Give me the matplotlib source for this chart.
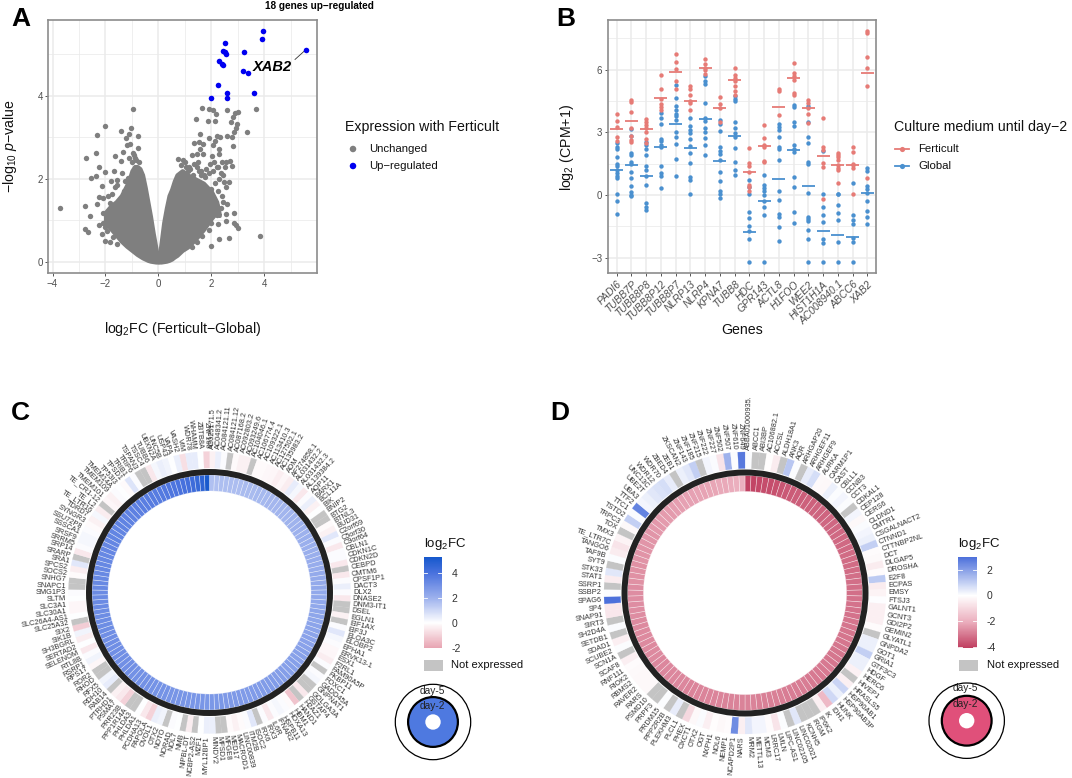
import numpy as np
import matplotlib
matplotlib.use("Agg")
import matplotlib.pyplot as plt
from matplotlib.colors import LinearSegmentedColormap, Normalize
from matplotlib.cm import ScalarMappable
from matplotlib.patches import Circle, Rectangle
from matplotlib.ticker import MultipleLocator

plt.rcParams['font.family'] = ['Liberation Sans', 'DejaVu Sans']
plt.rcParams['mathtext.fontset'] = 'custom'
plt.rcParams['mathtext.rm'] = 'Liberation Sans'
plt.rcParams['mathtext.it'] = 'Liberation Sans:italic'
plt.rcParams['mathtext.bf'] = 'Liberation Sans:bold'
plt.rcParams['axes.unicode_minus'] = True

W, H = 1072, 778

# ---------- Panel A data ----------
up_x = [2.0, 2.24, 2.58, 2.58, 3.62, 3.19, 3.37, 2.3, 2.42, 2.44, 2.45, 2.5, 2.57, 2.5, 3.22, 3.9, 3.95, 5.56]
up_y = [3.94, 4.26, 4.07, 3.94, 4.08, 4.59, 4.55, 4.84, 4.77, 4.74, 5.09, 5.07, 5.0, 5.27, 5.06, 5.38, 5.56, 5.11]

gray_x = [-3.7, -2.79, -2.74, -2.36, -2.31, -2.01, -1.40, -1.02, -0.97, -0.77, -1.12, -1.22, -1.19, -1.07, -0.78,
          -1.35, -1.64, -0.92, -1.41, -1.13, -2.25, -2.03, -1.67, -2.35, -2.55, -2.15, -1.79, -1.58, -1.38, -2.24,
          -2.08, -2.31, -2.58, -2.08, -2.77, -2.65, -2.26, -2.11, -2.14, -2.0, -1.82, -1.57, -1.9, -1.75, -1.82,
          -1.65, -2.0, -1.5, -1.7, -1.95, -1.72, -1.55, -1.3, -1.25, -1.15, -0.85, -0.88, -0.72, -1.0, -0.95,
          1.66, 1.91, 2.08, 2.19, 1.42, 1.89, 2.15, 2.60, 3.70, 2.99, 2.89, 2.83, 2.73, 2.96, 2.92, 2.87, 3.35, 1.57,
          1.92, 2.23, 2.32, 2.14, 2.58, 2.77, 2.82, 1.33, 1.53, 1.70, 2.08, 2.27, 1.57, 0.75, 0.94, 1.26, 1.45, 1.70,
          2.03, 2.27, 2.55, 2.70, 2.79, 2.48, 2.67, 2.55, 2.87, 2.2, 2.55, 2.26, 2.87, 2.93, 3.02, 3.85, 2.29, 2.65,
          1.97, 1.91, 1.64, 1.45, 1.26, 1.0, 1.15, 1.35, 1.5, 1.62, 1.8, 1.95, 2.1, 2.25, 2.4, 1.1, 1.3, 1.52, 1.72,
          1.9, 2.05, 2.2, 2.35, 2.5, 2.15, 2.3, 2.45, 2.0, 2.25, 2.4, 2.55, 2.1, 2.2, 2.35, 2.45, 2.6, 1.85, 2.0, 0.85,
          1.05, 1.2, 1.45, 1.6, 0.9, 1.75, 1.55]
gray_y = [1.29, 1.35, 2.5, 2.62, 3.06, 3.28, 3.16, 3.23, 3.69, 3.03, 3.08, 2.98, 2.82, 2.84, 2.74,
          2.66, 2.55, 2.58, 2.43, 2.5, 2.3, 2.18, 2.19, 2.07, 2.03, 1.84, 1.95, 1.97, 2.14, 1.57,
          1.55, 1.40, 1.10, 1.17, 0.79, 0.72, 0.88, 0.93, 0.67, 0.51, 0.47, 0.43, 1.6, 1.65, 1.42,
          1.8, 0.85, 0.7, 0.6, 0.75, 1.1, 1.85, 1.72, 1.95, 2.02, 2.45, 2.5, 2.4, 2.4, 2.62,
          3.72, 3.69, 3.66, 3.57, 3.45, 3.40, 3.39, 3.65, 3.68, 3.62, 3.58, 3.50, 3.38, 3.32, 3.22, 3.14, 3.12, 3.08,
          2.98, 3.04, 3.0, 2.92, 3.04, 3.02, 2.8, 2.86, 2.88, 2.84, 2.82, 2.72, 2.72, 2.47, 2.45, 2.58, 2.6, 2.6,
          2.55, 2.6, 2.42, 2.44, 2.32, 1.92, 1.92, 1.15, 1.17, 1.13, 0.99, 0.92, 0.95, 0.88, 0.81, 0.63, 0.55, 0.59,
          0.39, 0.76, 0.63, 0.49, 0.37, 2.4, 2.3, 2.35, 2.42, 2.2, 2.25, 2.35, 2.42, 2.3, 2.4, 2.2, 2.1, 2.2, 2.1,
          2.15, 2.2, 2.3, 2.15, 2.3, 1.9, 2.0, 2.1, 1.75, 1.7, 1.6, 1.8, 1.45, 1.35, 1.3, 1.45, 1.4, 1.05, 0.95, 2.33,
          2.28, 2.25, 2.3, 2.1, 2.15, 2.05, 1.05]

left_x = [-2.0, -1.8, -1.6, -1.4, -1.2, -1.1, -1.0, -0.9, -0.8, -0.7, -0.6, -0.5, -0.4, -0.3, -0.2, -0.1, -0.02]
left_top = [1.2, 1.35, 1.45, 1.6, 1.85, 2.0, 2.2, 2.3, 2.3, 2.25, 2.1, 1.8, 1.45, 1.1, 0.7, 0.35, 0.05]
left_low = [0.95, 0.8, 0.65, 0.5, 0.38, 0.33, 0.28, 0.23, 0.18, 0.14, 0.1, 0.07, 0.04, 0.02, 0.01, 0.0, 0.0]
right_x = [0.02, 0.1, 0.2, 0.3, 0.4, 0.5, 0.6, 0.7, 0.9, 1.1, 1.4, 1.7, 2.0, 2.2, 2.3]
right_top = [0.05, 0.45, 0.95, 1.3, 1.6, 1.75, 1.95, 2.1, 2.2, 2.1, 2.0, 1.9, 1.7, 1.45, 1.15]
right_low = [0.0, 0.0, 0.01, 0.02, 0.04, 0.07, 0.12, 0.16, 0.28, 0.36, 0.55, 0.78, 1.05, 1.2, 1.12]

# ---------- Panel B data ----------
genes_b = ['PADI6', 'TUBB7P', 'TUBB8P8', 'TUBB8P12', 'TUBB8P7', 'NLRP13', 'NLRP4', 'KPNA7', 'TUBB8', 'HDC', 'GPR143',
           'ACTL8', 'H1FOO', 'WEE2', 'HIST1H1A', 'AC008940.1', 'ABCC6', 'XAB2']
ferticult = [
    [3.9, 3.55, 3.25, 2.8, 2.6], [4.55, 4.45, 4.0, 3.2, 2.85, 2.65, 2.55], [3.65, 3.5, 3.35, 3.2, 3.0, 2.7, 2.5],
    [5.75, 5.1, 4.6, 4.35, 4.2, 4.05], [6.75, 6.35, 6.05, 5.45, 5.1], [5.2, 5.1, 4.8, 4.5, 4.4, 4.05],
    [6.5, 6.25, 6.1, 6.0, 5.8], [4.7, 4.35, 4.15, 3.5], [6.1, 5.75, 5.6, 5.45, 5.2, 5.0, 4.8],
    [2.25, 1.55, 1.4, 1.1, 0.5, 0.4, 0.2], [3.35, 2.75, 2.4, 2.3, 1.65, 1.6], [5.1, 5.0, 3.85],
    [6.3, 5.85, 5.7, 5.5, 4.9, 4.8], [4.55, 4.4, 4.15, 3.9, 3.45], [3.7, 2.3, 2.15, 1.55, 1.36, -0.2],
    [2.03, 1.9, 1.8, 1.67, 1.44, 1.28, 1.2, 0.6], [2.3, 2.07, 1.5, 1.43, 1.28, 0.03], [7.87, 7.75, 6.6, 6.1, 5.2, 0.8]]
global_ = [
    [2.5, 2.3, 2.2, 1.8, 1.5, 1.4, 1.2, 1.05, 0.9, 0.8, 0.05, -0.3, -0.9],
    [3.15, 2.85, 2.0, 1.9, 1.6, 1.5, 1.1, 0.8, 0.45, 0.15, 0.0, -0.05],
    [2.55, 2.4, 2.2, 1.9, 1.4, 1.2, 0.9, 0.5, -0.4, -0.55, -0.7],
    [3.95, 3.7, 3.4, 2.7, 2.6, 2.4, 2.3, 1.4, 1.05, 0.9, 0.35],
    [5.25, 4.65, 4.25, 4.05, 3.9, 3.8, 3.6, 3.0, 2.8, 2.45, 1.75, 0.9],
    [3.7, 3.3, 3.1, 2.95, 2.7, 2.35, 2.0, 1.55, 0.85, 0.7, 0.05],
    [5.7, 5.45, 5.3, 4.4, 3.7, 3.55, 3.2, 3.0, 2.75, 2.4, 1.9],
    [3.6, 3.4, 3.05, 2.3, 2.1, 1.95, 1.7, 1.1, 0.65, 0.2, 0.05, -0.15],
    [4.75, 4.6, 4.5, 3.5, 3.2, 2.95, 2.8, 2.25, 1.6, 1.2, 0.95],
    [0.7, 0.4, 0.05, -0.8, -1.1, -1.5, -1.7, -2.1, -3.2],
    [0.95, 0.5, 0.35, 0.2, 0.0, -0.3, -0.55, -0.95, -3.2],
    [3.4, 3.25, 3.1, 2.8, 2.3, 2.2, 1.7, 0.2, -0.25, -0.9, -1.05, -1.55, -2.2],
    [4.3, 4.2, 3.5, 3.3, 2.4, 2.2, 2.05, 0.85, 0.4, -0.8, -1.35],
    [4.25, 3.5, 2.8, 2.5, 1.6, 1.5, 0.1, -1.05, -1.15, -1.25, -1.65, -2.1, -3.2],
    [2.1, 0.05, -0.55, -0.95, -1.3, -2.1, -2.3, -3.2],
    [0.05, 0.03, -0.48, -0.88, -1.2, -2.27, -3.2],
    [0.6, -0.95, -1.2, -1.4, -2.07, -2.27, -3.2],
    [1.28, 1.16, 0.43, 0.3, 0.1, -0.3, -0.75, -1.05, -1.37]]
mean_f = [3.15, 3.55, 3.15, 4.65, 5.9, 4.5, 6.1, 4.15, 5.5, 1.1, 2.35, 4.2, 5.6, 4.15, 1.87, 1.45, 1.45, 5.85]
mean_g = [1.2, 1.45, 0.9, 2.3, 3.4, 2.25, 3.65, 1.65, 2.85, -1.75, -0.3, 0.75, 2.15, 0.45, -1.7, -1.9, -2.0, 0.08]

# ---------- Panel C data ----------
genes_c = ['AC025171.5', 'AC048341.2', 'AC084121.11', 'AC084121.12', 'AC087168.2', 'AC092803.2', 'AC093249.6',
           'AC104046.1', 'AC106774.4', 'AC109322.1', 'AC113410.3', 'AC127502.1', 'AC135983.2', 'ADM', 'AF274858.1',
           'AL031432.2', 'AL031432.3', 'AL139384.2', 'AQP11', 'BARX1', 'BCL11A', 'BIK', 'BNIP2', 'BTG2', 'BTNL3',
           'BUD31', 'C2orf69', 'C5orf30', 'C9orf64', 'CBLN1', 'CDKN1C', 'CDKN2D', 'CEBPD', 'CMTM6', 'CPSF1P1', 'DACT3',
           'DLX2', 'DNASE2', 'DNM3-IT1', 'DSEL', 'EGLN1', 'EIF1AX', 'EIF3J', 'ELOA3C', 'ELOBP2', 'EPHA1', 'ERVK13-1',
           'ESX1', 'F2RL1', 'FAM90A5P', 'FKBP11', 'FOXC1', 'GADD45A', 'GNPNAT1', 'GOLGA3A', 'GSTAP4', 'H2AZ1', 'HAND1',
           'HBM1', 'HOXA13', 'HSPB11', 'IFNAR2', 'IL6R', 'IRX3', 'IRX6', 'ISOC2', 'ITM2B', 'LINC00839', 'MACROD1',
           'MED17', 'MFGE8', 'MFSD1', 'MINDY2', 'MYL12BP1', 'MZF1', 'NCBP2-AS2', 'NIPBL-DT', 'NMB', 'NOL7', 'NORAD',
           'NOTO', 'OTX2', 'OVOL1', 'PAPOLA', 'PCDHA13', 'PHLDA1', 'PHLDA3', 'PPP1R14A', 'PRR23B', 'PSMA7', 'PTRHD1',
           'RAB14', 'RDH10', 'RFX5', 'RHOD', 'ROR2', 'RPS17', 'RSRP1', 'RTL8B', 'SELENOM', 'SERTAD2', 'SH3BGRL',
           'SIK1B', 'SIX2', 'SLC25A32', 'SLC26A4-AS1', 'SLC30A1', 'SLC3A1', 'SLTM', 'SMG1P3', 'SNAPC1', 'SNHG7',
           'SOCS2', 'SPCS2', 'SRA1', 'SRARP', 'SRP14', 'SRRM5', 'SRSF9', 'SSSCA1', 'SSU72P8', 'SYNGR3', 'TDRD7',
           'TE_LTR16', 'TE_L2', 'TE_CR1-12', 'TMEM101', 'TMEM109', 'TMEM14A', 'TP53I3', 'TPSD1', 'TRIB1', 'TRIP6',
           'TSPAN3', 'TSSC4', 'TUBB6', 'UBXN2A', 'UNC5B', 'USP43', 'VAPA', 'VASH2', 'VIM', 'WDR78', 'WHAMM', 'ZBTB8A',
           'ZNF168']
nan = float('nan')
c_day2 = [1.6, 1.6, 1.65, 1.65, 1.7, 1.7, 1.7, 1.75, 1.75, 1.75, 1.8, 1.8, 1.8, 1.85, 1.85, 1.85, 1.9, 1.9, 1.9, 1.95,
          1.95, 2.0, 2.0, 2.0, 2.05, 2.05, 2.05, 2.1, 2.1, 2.15, 2.15, 2.15, 2.2, 2.2, 2.2, 2.25, 2.25, 2.3, 2.3, 2.3,
          2.35, 2.35, 2.35, 2.4, 2.4, 2.4, 2.45, 2.45, 2.45, 2.5, 2.5, 2.5, 2.55, 2.55, 2.55, 2.6, 2.6, 2.6, 2.65, 2.65,
          2.65, 2.65, 2.7, 2.7, 2.7, 2.7, 2.75, 2.75, 2.75, 2.75, 2.8, 2.8, 2.8, 2.8, 2.85, 2.85, 2.85, 2.85, 2.9, 2.9,
          2.9, 2.9, 2.95, 2.95, 2.95, 2.95, 3.0, 3.0, 3.0, 3.0, 3.0, 3.05, 3.05, 3.05, 3.05, 3.05, 3.1, 3.1, 3.1, 3.1,
          3.1, 3.15, 3.15, 3.15, 3.15, 3.15, 3.2, 3.2, 3.2, 3.2, 3.25, 3.25, 3.25, 3.25, 3.3, 3.3, 3.3, 3.3, 3.35, 3.35,
          3.35, 3.4, 3.4, 3.4, 3.45, 3.45, 3.5, 3.5, 3.55, 3.55, 3.6, 3.6, 3.65, 3.7, 3.7, 3.75, 3.8, 3.85, 3.9, 4.0,
          4.05, 4.15, 4.3, 4.45, 4.7, 5.2]
c_day5 = [-0.3, 0.4, 0.1, nan, -0.1, -0.3, -0.3, nan, -0.1, -0.1, -0.15, -0.2, -0.35, -0.2, -0.4, 0.5, 0.2, -0.5, 0.1,
          0.4, -0.3, 0.05, nan, nan, -0.1, -0.3, 0.6, 0.1, -0.5, 0.1, 0.1, -0.5, nan, -0.5, 0.1, 0.4, 0.1, -0.5, nan,
          nan, -0.3, nan, 0.1, 0.6, 0.2, 0.1, -0.15, -0.2, -0.4, 0.1, nan, 0.1, 0.2, nan, nan, -0.5, nan, -1.3, -0.1,
          0.1, 0.2, 0.1, -0.5, 0.1, nan, 0.6, 0.1, -0.1, -0.3, -0.1, nan, nan, 0.4, 0.4, 0.05, nan, -0.4, nan, 0.05,
          0.1, nan, 0.3, 0.4, -1.0, -0.5, 0.05, nan, nan, -1.0, -0.5, -0.3, nan, 0.5, 0.3, nan, nan, -0.2, 0.3, 0.1,
          -0.5, 0.05, -0.4, 0.3, -1.1, nan, 0.05, -0.2, -0.2, 0.05, 0.1, nan, nan, -0.1, -0.4, 0.6, nan, -0.5, 0.1,
          0.2, 0.2, 0.1, -0.1, -0.3, 0.2, -0.4, nan, -0.2, -0.3, 0.1, 0.05, -0.1, 0.7, 0.1, nan, nan, -0.5, 0.2, 0.4,
          0.3, 0.05, 0.4, -0.7, 0.5, 0.5, 0.05, -1.0]

# ---------- Panel D data ----------
genes_d = ['ABBA01000935.', 'ABCC1', 'ABI3BP', 'AC106882.1', 'ACCSL', 'ALDH18A1', 'ANK3', 'AQR', 'ARHGAP20', 'ARHGEF11',
           'ARHGEF9', 'AURKA', 'CARM1P1', 'CAST', 'CBLL1', 'CCNB3', 'CCT3', 'CDKAL1', 'CEP128', 'CERS6', 'CLDND1',
           'CMTR1', 'CSGALNACT2', 'CTNND1', 'CTTNBP2NL', 'DCT', 'DLGAP5', 'DROSHA', 'E2F8', 'ECPAS', 'EMSY', 'FTSJ3',
           'GALNT1', 'GCNT3', 'GDI2P2', 'GEMIN2', 'GLYATL1', 'GNPDA2', 'GOT1', 'GRIA1', 'GTF3C3', 'HDGF', 'HERC6',
           'HIVEP1', 'HRASLS5', 'HSP90AB1', 'HSP90AB3P', 'HUNK', 'IDH1', 'IK', 'IP6K2', 'IRGM', 'KCNH5', 'LINC02021',
           'LINC02105', 'LIPC-AS1', 'LMLN', 'LRRC17', 'MCM3', 'METTL13', 'MRM2', 'NARS', 'NCAPD2P1', 'NEMP1', 'NOL6',
           'NXPH1', 'OGT', 'OTX2', 'OXCT1', 'PHEX', 'PLCL1', 'PLEKHM3', 'PPP2R2B', 'PRDM15', 'PRPF3', 'PSMD10', 'RARS',
           'RAVER2', 'RBMS2', 'RIOK2', 'RNF111', 'SCAF8', 'SCN1A', 'SCUBE2', 'SDAD1', 'SETDB1', 'SH2D4A', 'SIRT3',
           'SNAP91', 'SP4', 'SPAG6', 'SSBP2', 'SSRP1', 'STAT1', 'STK33', 'SYT9', 'TAF9B', 'TANGO6', 'TE_LTR7C', 'TMX3',
           'TOX', 'TRPC3', 'TSTD2', 'TTC1', 'TTF2', 'UBA3', 'UBE2T', 'UNC13C', 'WDR12', 'WDR70', 'ZBED4', 'ZEB1',
           'ZKSCAN2', 'ZNF143', 'ZNF185', 'ZNF215', 'ZNF222', 'ZNF227', 'ZNF502', 'ZNF507', 'ZNF610', 'ZNF649']
d_day2 = [-4.0, -3.95, -3.9, -3.8, -3.8, -3.75, -3.65, -3.6, -3.55, -3.5, -3.5, -3.45, -3.45, -3.4, -3.4, -3.4, -3.35,
          -3.35, -3.35, -3.3, -3.3, -3.3, -3.3, -3.25, -3.25, -3.25, -3.25, -3.2, -3.2, -3.2, -3.2, -3.15, -3.15, -3.15,
          -3.15, -3.1, -3.1, -3.1, -3.1, -3.05, -3.05, -3.05, -3.05, -3.05, -3.0, -3.0, -3.0, -3.0, -3.0, -2.95, -2.95,
          -2.95, -2.95, -2.95, -2.9, -2.9, -2.9, -2.9, -2.9, -2.85, -2.85, -2.85, -2.85, -2.85, -2.85, -2.8, -2.8, -2.8,
          -2.8, -2.8, -2.8, -2.8, -2.75, -2.75, -2.75, -2.75, -2.75, -2.75, -2.75, -2.7, -2.7, -2.7, -2.7, -2.7, -2.7,
          -2.7, -2.7, -2.65, -2.65, -2.65, -2.65, -2.65, -2.65, -2.6, -2.6, -2.6, -2.6, -2.55, -2.55, -2.55, -2.5, -2.5,
          -2.5, -2.45, -2.45, -2.4, -2.4, -2.4, -2.35, -2.35, -2.3, -2.3, -2.3, -2.25, -2.25, -2.2, -2.2, -2.15, -2.15,
          -2.1, -2.05, -2.0]
d_day5 = [0.05, nan, nan, -0.05, -0.5, nan, 1.2, 0.05, nan, 0.4, 0.7, -0.15, -0.2, 0.3, 0.05, 0.2, 0.05, nan, 0.2, -0.2,
          0.1, 0.2, 0.3, 1.0, -0.1, -0.15, -0.5, -0.1, 1.1, -0.5, -0.3, 0.02, -0.4, -0.4, -0.4, -0.1, nan, 0.3, 0.3,
          1.0, 0.3, 0.3, -0.35, nan, -0.4, 0.9, 0.3, 0.8, -1.8, -0.4, nan, nan, nan, 0.5, nan, 0.05, -0.7, -0.1, 0.2,
          0.2, 0.5, -0.4, 2.4, -0.1, -0.2, -0.05, -0.4, 0.1, -0.2, -1.0, nan, 0.4, nan, 0.05, nan, nan, -0.2, -0.2,
          -0.2, -0.15, -0.1, -0.4, nan, 0.05, -0.4, nan, 0.1, nan, -0.6, -0.6, 3.0, 0.05, nan, -0.5, 0.5, nan, 0.05,
          -0.5, -0.7, -0.3, nan, -0.2, 1.0, 0.1, 2.6, 0.2, 0.3, 0.5, 0.6, 0.7, 0.4, nan, 0.3, 0.5, 1.0, nan, 0.2, 0.1,
          -0.7, 1.6, 0.05, 2.8]

GRID = '#EBEBEB'
BORDER = '#8C8C8C'
TICK = '#4D4D4D'
RED, BLUE = '#E67B76', '#4A90CF'
GRAY_PT, BLUE_PT = '#7F7F7F', '#0000F0'
TXT = '#111111'


def box(x0, y0, x1, y1, **kw):
    return fig.add_axes([x0 / W, 1 - y1 / H, (x1 - x0) / W, (y1 - y0) / H], **kw)


def style(ax):
    ax.grid(True, which='major', color=GRID, lw=1.1, zorder=0)
    ax.grid(True, which='minor', color=GRID, lw=0.55, zorder=0)
    ax.set_axisbelow(True)
    for s in ax.spines.values():
        s.set_color(BORDER)
        s.set_linewidth(1.2)
    ax.tick_params(which='major', length=2.5, width=0.7, color='#555555', labelcolor=TICK, labelsize=7, pad=1.5)
    ax.tick_params(which='minor', length=0)


fig = plt.figure(figsize=(W / 100, H / 100), dpi=100, facecolor='white')

# Panel A
a = box(48.3, 20, 317, 273)
style(a)
a.set_xlim(-4.16, 5.99)
a.set_ylim(-0.265, 5.83)
a.xaxis.set_major_locator(MultipleLocator(2))
a.xaxis.set_minor_locator(MultipleLocator(1))
a.yaxis.set_major_locator(MultipleLocator(2))
a.yaxis.set_minor_locator(MultipleLocator(1))
a.set_xticks([-4, -2, 0, 2, 4])
a.fill_between(left_x, left_low, left_top, color=GRAY_PT, lw=3, zorder=2)
a.fill_between(right_x, right_low, right_top, color=GRAY_PT, lw=3, zorder=2)
a.scatter(gray_x, gray_y, s=15, color=GRAY_PT, lw=0, zorder=3)
a.scatter(up_x, up_y, s=16, color=BLUE_PT, lw=0, zorder=4)
a.plot([5.16, 5.56], [4.88, 5.11], color='#333333', lw=0.6, zorder=3)
a.text(4.3, 4.7, 'XAB2', fontsize=10.5, fontweight='bold', fontstyle='italic', ha='center', va='center', color='black')

# Panel B
b = box(607.7, 20, 876.3, 273)
style(b)
xs = np.arange(1, len(genes_b) + 1)
b.set_xlim(0.4, 18.6)
b.set_ylim(-3.73, 8.38)
b.yaxis.set_major_locator(MultipleLocator(3))
b.yaxis.set_minor_locator(MultipleLocator(1.5))
b.set_xticks(xs)
b.set_xticklabels(genes_b, rotation=45, ha='right', rotation_mode='anchor', fontstyle='italic', fontsize=7.4)
b.tick_params(axis='x', pad=2)
for x0, fv, gv, mf, mg in zip(xs, ferticult, global_, mean_f, mean_g):
    b.scatter([x0] * len(gv), gv, s=10, color=BLUE, lw=0, zorder=3)
    b.scatter([x0] * len(fv), fv, s=10, color=RED, lw=0, zorder=3)
    b.plot([x0 - 0.44, x0 + 0.44], [mg, mg], color=BLUE, lw=1.3, zorder=4, solid_capstyle='butt')
    b.plot([x0 - 0.44, x0 + 0.44], [mf, mf], color=RED, lw=1.3, zorder=4, solid_capstyle='butt')

# Donuts
cmap_c = LinearSegmentedColormap.from_list('c', [(0, '#E8A5B3'), (2 / 7.3, '#FFFFFF'), (4 / 7.3, '#9DB1ED'),
                                                 (6 / 7.3, '#4A72DE'), (1, '#1558CC')])
norm_c = Normalize(-2, 5.3)
cmap_d = LinearSegmentedColormap.from_list('d', [(0, '#C03F60'), (2 / 7.07, '#EBAEBD'), (4.07 / 7.07, '#FFFFFF'),
                                                 (1, '#4C70DB')])
norm_d = Normalize(-4.07, 3.0)
NA = '#C4C4C4'


def donut(cx, cy, labels, inner, outer, cmap, norm):
    R = 142
    ax = box(cx - R, cy - R, cx + R, cy + R, projection='polar')
    ax.set_theta_zero_location('N')
    ax.set_theta_direction(-1)
    ax.set_ylim(0, R)
    ax.set_axis_off()
    ax.patch.set_alpha(0)
    n = len(labels)
    th = 2 * np.pi * (np.arange(n) + 0.5) / n
    wd = 2 * np.pi / n
    ax.bar(th, [16] * n, width=wd, bottom=101.5, color=[cmap(norm(v)) for v in inner],
           edgecolor='#FFFFFF80', linewidth=0.45)
    ax.bar(0, 6, width=2 * np.pi, bottom=117.5, color='#222222', linewidth=0)
    cols = [NA if np.isnan(v) else cmap(norm(v)) for v in outer]
    ax.bar(th, [16.5] * n, width=wd, bottom=124.5, color=cols, edgecolor=cols, linewidth=0.15)
    for t, s in zip(th, labels):
        deg = np.degrees(t)
        if deg <= 180:
            rot, ha = 90 - deg, 'left'
        else:
            rot, ha = 270 - deg, 'right'
        ax.text(t, 143.5, s, rotation=rot, rotation_mode='anchor', ha=ha, va='center', fontsize=5.3,
                color='#333333', clip_on=False)


donut(209.5, 592.5, genes_c, c_day2, c_day5, cmap_c, norm_c)
donut(745, 593, genes_d, d_day2, d_day5, cmap_d, norm_d)


def cbar(x0, x1, top, bottom, cmap, norm, ticks):
    cx = box(x0, top, x1, bottom)
    cb = fig.colorbar(ScalarMappable(norm=norm, cmap=cmap), cax=cx)
    cb.outline.set_visible(False)
    cb.set_ticks(ticks)
    cb.set_ticklabels([str(t) for t in ticks])
    cx.tick_params(length=0, labelsize=7.5, pad=7, labelcolor='#333333')
    for t in ticks:
        cx.plot([0, 0.2], [t, t], color='white', lw=0.6, transform=cx.get_yaxis_transform())
        cx.plot([0.8, 1], [t, t], color='white', lw=0.6, transform=cx.get_yaxis_transform())


cbar(423.7, 442, 557, 647.7, cmap_c, norm_c, [4, 2, 0, -2])
cbar(958.3, 976.7, 557, 647.7, cmap_d, norm_d, [2, 0, -2, -4])

# Overlay in pixel coordinates
ov = fig.add_axes([0, 0, 1, 1], zorder=10)
ov.set_xlim(0, W)
ov.set_ylim(H, 0)
ov.set_axis_off()
ov.patch.set_alpha(0)


def T(x, y, s, size=8.5, ha='left', va='center', **kw):
    kw.setdefault('color', TXT)
    ov.text(x, y, s, fontsize=size, ha=ha, va=va, **kw)


for s, x, y in [('A', 20.5, 18.5), ('B', 566, 18.5), ('C', 20, 413), ('D', 560, 413)]:
    T(x, y, s, size=19, ha='center', fontweight='bold', color='black')
T(319, 5.5, '18 genes up\u2212regulated', size=7.2, ha='center', fontweight='bold', color='black')

T(183, 329, r'$\mathrm{log_2}$FC (Ferticult\u2212Global)'.replace('\\u2212', '\u2212'), size=10.2, ha='center')
T(10, 146, '\u2212$\\mathrm{log_{10}}$ $p$\u2212value', size=10.2, ha='center', rotation=90)
T(567.5, 148, '$\\mathrm{log_2}$ (CPM+1)', size=10.2, ha='center', rotation=90)
T(742, 330, 'Genes', size=10.2, ha='center')

T(345, 127, 'Expression with Ferticult', size=10.2)
ov.scatter([353, 353], [149, 166], s=[22, 22], color=[GRAY_PT, BLUE_PT], lw=0)
T(369, 149, 'Unchanged', size=8.2)
T(369, 166, 'Up\u2212regulated', size=8.2)

T(893.7, 127, 'Culture medium until day\u22122', size=10.2)
for y, c, s in [(149, RED, 'Ferticult'), (166, BLUE, 'Global')]:
    ov.plot([895, 909], [y, y], color=c, lw=1.3)
    ov.scatter([902], [y], s=14, color=c, lw=0)
    T(918, y, s, size=8.2)

for x0, x1, tx, title_x in [(423.7, 442.7, 451, 423.7), (959, 978, 986.7, 958.3)]:
    T(title_x, 544, '$\\mathrm{log_2}$FC', size=9.5)
    ov.add_patch(Rectangle((x0, 660), x1 - x0, 10.7, color=NA, lw=0))
    T(tx, 665.5, 'Not expressed', size=8)

for cx, cy, col, y5, y2 in [(433, 722, '#4E79E0', 690.7, 706), (966.7, 720.7, '#E0507A', 688, 704)]:
    ov.add_patch(Circle((cx, cy), 37.7, fc='white', ec='black', lw=0.9))
    ov.add_patch(Circle((cx, cy), 24.9, fc=col, ec='black', lw=1.6))
    ov.add_patch(Circle((cx, cy), 7.7, fc='white', ec='none'))
    T(cx - 1, y5, 'day-5', size=7.3, ha='center', color='#222222')
    T(cx - 1, y2, 'day-2', size=7.3, ha='center', color='#222222')

fig.savefig('out.png', dpi=100, facecolor='white')
